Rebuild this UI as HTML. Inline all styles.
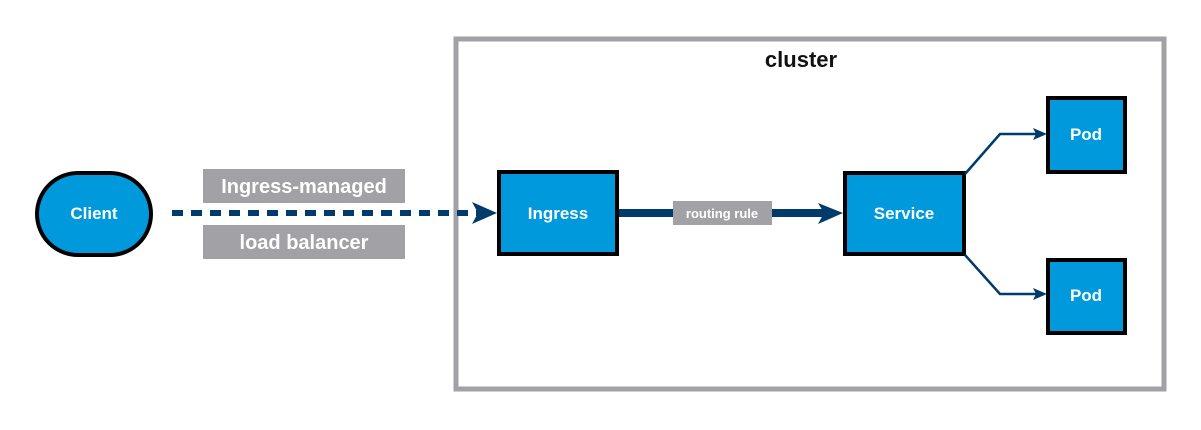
<!DOCTYPE html>
<html><head><meta charset="utf-8"><style>
html,body{margin:0;padding:0;background:#fff;}
svg{display:block;}
text{font-family:"Liberation Sans",sans-serif;font-weight:bold;}
</style></head><body>
<svg width="1201" height="430" viewBox="0 0 1201 430" xmlns="http://www.w3.org/2000/svg">
<rect x="456" y="39" width="708" height="350" fill="none" stroke="#a2a2a6" stroke-width="5"/>
<text x="801" y="67" font-size="22" text-anchor="middle" fill="#111">cluster</text>
<line x1="172" y1="213" x2="480" y2="213" stroke="#003b6b" stroke-width="6" stroke-dasharray="11,8"/>
<path d="M472 202 L497 213 L472 224 L478 213 Z" fill="#003b6b"/>
<rect x="203" y="169" width="202" height="34" fill="#a2a2a6"/>
<text x="304" y="193" font-size="20" text-anchor="middle" fill="#fff">Ingress-managed</text>
<rect x="203" y="225" width="202" height="34" fill="#a2a2a6"/>
<text x="304" y="249" font-size="20" text-anchor="middle" fill="#fff">load balancer</text>
<rect x="37" y="173" width="114" height="82" rx="41" fill="#0099dc" stroke="#000" stroke-width="4"/>
<text x="94" y="219" font-size="17" text-anchor="middle" fill="#fff">Client</text>
<line x1="619" y1="213" x2="825" y2="213" stroke="#003b6b" stroke-width="8"/>
<path d="M818 203 L843 213 L818 224 L824 213 Z" fill="#003b6b"/>
<rect x="673" y="201" width="99" height="24" fill="#a2a2a6"/>
<text x="722" y="218" font-size="13" text-anchor="middle" fill="#fff">routing rule</text>
<rect x="499" y="172" width="118" height="82" fill="#0099dc" stroke="#000" stroke-width="4"/>
<text x="558" y="219" font-size="17" text-anchor="middle" fill="#fff">Ingress</text>
<rect x="845" y="173" width="119" height="81" fill="#0099dc" stroke="#000" stroke-width="4"/>
<text x="904" y="219" font-size="17" text-anchor="middle" fill="#fff">Service</text>
<polyline points="965,174 1000,134 1038,134" fill="none" stroke="#003b6b" stroke-width="2.5"/>
<path d="M1033 128 L1047 134 L1033 140 L1036 134 Z" fill="#003b6b"/>
<polyline points="965,255 1000,294 1038,294" fill="none" stroke="#003b6b" stroke-width="2.5"/>
<path d="M1033 288 L1047 294 L1033 300 L1036 294 Z" fill="#003b6b"/>
<rect x="1048" y="98" width="77" height="74" fill="#0099dc" stroke="#000" stroke-width="4"/>
<text x="1086" y="140" font-size="17" text-anchor="middle" fill="#fff">Pod</text>
<rect x="1048" y="260" width="77" height="73" fill="#0099dc" stroke="#000" stroke-width="4"/>
<text x="1086" y="301" font-size="17" text-anchor="middle" fill="#fff">Pod</text>
</svg>
</body></html>
